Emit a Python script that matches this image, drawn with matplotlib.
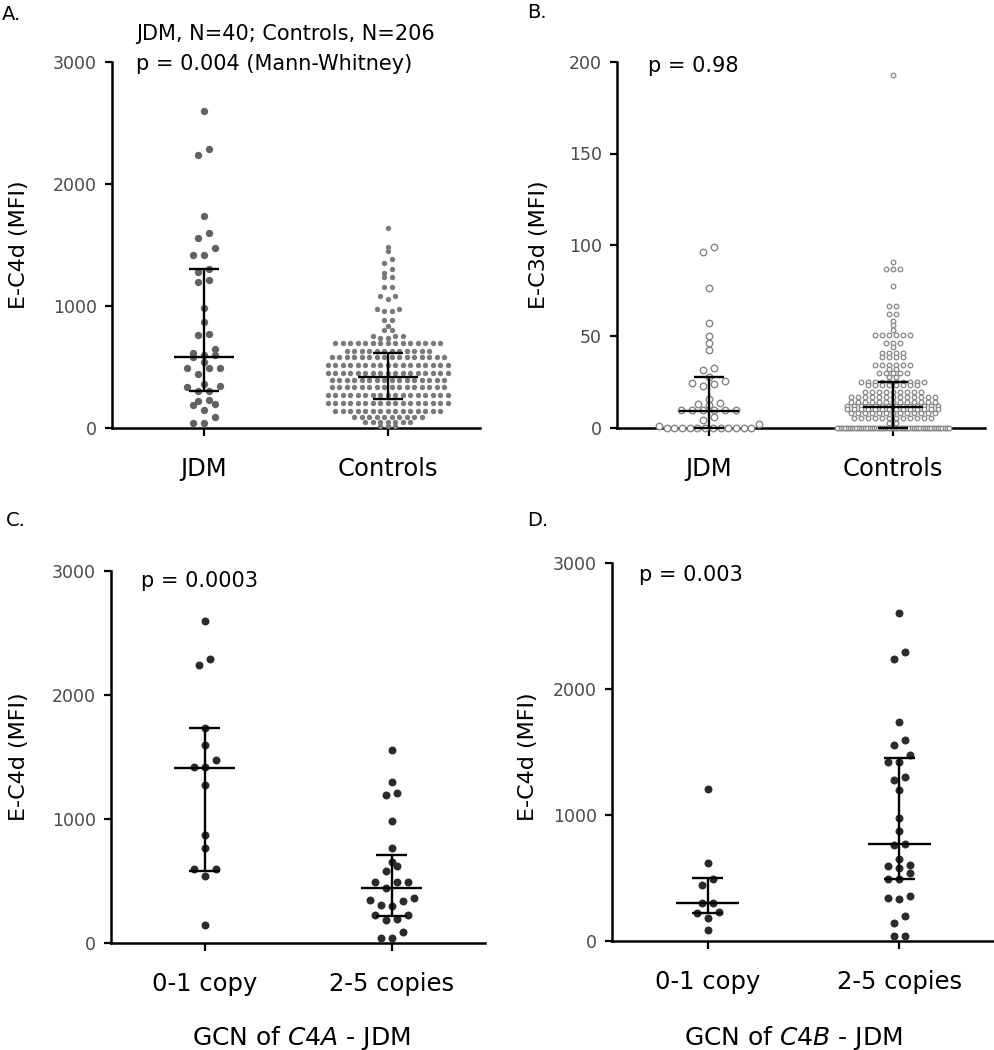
import numpy as np
import matplotlib.pyplot as plt

# ---------------- data ----------------
# E-C4d (MFI) of the 40 JDM patients; the same patients are split by C4A / C4B copy number
jdm_c4d = [2600, 2290, 2240, 1735, 1595, 1555, 1475, 1420, 1420, 1300,
           1275, 1210, 1195, 980, 870, 770, 765, 650, 618, 600,
           595, 580, 540, 495, 492, 490, 445, 360, 345, 335,
           305, 300, 228, 222, 195, 185, 145, 90, 40, 38]
# 0 = "0-1 copy", 1 = "2-5 copies"
c4a_group = [0, 0, 0, 0, 0, 1, 0, 0, 0, 1,
             0, 1, 1, 1, 0, 0, 1, 1, 1, 0,
             0, 1, 0, 1, 1, 1, 1, 1, 1, 1,
             1, 1, 1, 1, 1, 1, 0, 1, 1, 1]
c4b_group = [1, 1, 1, 1, 1, 1, 1, 1, 1, 1,
             1, 0, 1, 1, 1, 1, 1, 1, 0, 1,
             1, 1, 1, 0, 1, 1, 0, 1, 1, 1,
             0, 0, 0, 0, 1, 0, 1, 0, 1, 1]

# controls E-C4d: dots sit in rows, value of the row and number of dots in it
ctrl_c4d_rows = [1642, 1486, 1453, 1383, 1355, 1303, 1273, 1240, 1158, 1084,
                 1057, 975, 961, 885, 838, 803, 752, 735, 699, 631,
                 579, 516, 453, 393, 333, 270, 202, 139, 93, 52, 16]
ctrl_c4d_counts = [1, 1, 1, 1, 1, 1, 1, 2, 2, 2,
                   1, 2, 2, 2, 1, 2, 3, 2, 15, 12,
                   16, 17, 17, 16, 16, 17, 17, 15, 10, 7, 3]

# E-C3d (MFI)
jdm_c3d = [99.1, 96.4, 76.7, 57.5, 50.3, 46.3, 42.6, 32.6, 31.7, 28.0,
           25.7, 24.8, 23.9, 23.0, 15.8, 13.8, 13.1, 12.6, 9.8, 9.8,
           9.8, 9.8, 9.8, 9.8, 6.2, 4.4, 2.2, 1.1, 0, 0,
           0, 0, 0, 0, 0, 0, 0, 0, 0, 0]
ctrl_c3d_rows = [193, 90.9, 86.9, 77.8, 66.5, 62.5, 58.6, 56.3, 53.6, 50.8,
                 46.6, 44.4, 41.2, 38.6, 34.4, 32, 29.9, 28, 25.3, 23.5,
                 19.8, 16.8, 14.4, 12, 10.2, 8, 5.3, 2.9, 0]
ctrl_c3d_counts = [1, 1, 3, 1, 2, 2, 1, 1, 1, 6,
                   3, 1, 4, 4, 6, 2, 5, 2, 10, 8,
                   9, 13, 13, 14, 14, 13, 12, 2, 52]

# median and interquartile range lines
a_med, a_q1, a_q3 = [585, 420], [303, 238], [1300, 617]
b_med, b_q1, b_q3 = [9.5, 11.3], [0, 0], [27.7, 25.3]
c_med, c_q1, c_q3 = [1414, 441], [583, 220], [1731, 707]
d_med, d_q1, d_q3 = [299, 770], [220, 493], [502, 1454]

FIG_W, FIG_H = 995, 1050
fig = plt.figure(figsize=(FIG_W / 100, FIG_H / 100), dpi=100)


def px_axes(left, top, right, bottom):
    # axes box given in pixels of the final picture
    return fig.add_axes([left / FIG_W, 1 - bottom / FIG_H,
                         (right - left) / FIG_W, (bottom - top) / FIG_H])


def scatter_x(ax, values, center, row_px, step_px, max_px):
    # prism-like layout: points closer than row_px share a row, spread sideways
    vals = np.asarray(values, float)
    pos = ax.get_position()
    sx = pos.width * FIG_W / np.ptp(ax.get_xlim())
    sy = pos.height * FIG_H / np.ptp(ax.get_ylim())
    order = np.argsort(vals, kind='stable')
    xs = np.zeros(len(vals))
    i = 0
    while i < len(order):
        j = i
        start = vals[order[i]]
        while j < len(order) and (vals[order[j]] - start) * sy < row_px:
            j += 1
        n = j - i
        step = step_px if n < 2 else min(step_px, max_px / (n - 1))
        offs = (np.arange(n) - (n - 1) / 2) * step
        offs = offs[np.argsort(np.abs(offs) + 1e-6 * np.arange(n), kind='stable')]
        xs[order[i:j]] = center + offs / sx
        i = j
    return xs


def style(ax, ymax, yticks, xlabels):
    ax.set_xlim(-0.5, 1.5)
    ax.set_ylim(0, ymax)
    ax.spines['top'].set_visible(False)
    ax.spines['right'].set_visible(False)
    ax.spines['left'].set_linewidth(1.8)
    ax.spines['bottom'].set_linewidth(1.8)
    ax.set_yticks(yticks)
    ax.tick_params(axis='y', length=5, width=1.6, labelsize=12.5,
                   labelcolor='#4a4a4a', pad=6)
    ax.set_xticks([0, 1])
    ax.set_xticklabels(xlabels)
    ax.tick_params(axis='x', length=6, width=1.6, labelsize=17.5, pad=15)


def bars(ax, med, q1, q3):
    for x in range(2):
        kw = dict(color='black', lw=1.7, zorder=5, clip_on=False, solid_capstyle='butt')
        ax.plot([x, x], [q1[x], q3[x]], **kw)
        ax.plot([x - 0.165, x + 0.165], [med[x], med[x]], **kw)
        ax.plot([x - 0.082, x + 0.082], [q1[x], q1[x]], **kw)
        ax.plot([x - 0.082, x + 0.082], [q3[x], q3[x]], **kw)


jdm_c4d = np.array(jdm_c4d)
c4a_group = np.array(c4a_group)
c4b_group = np.array(c4b_group)
ctrl_c4d = np.repeat(ctrl_c4d_rows, ctrl_c4d_counts)
ctrl_c3d = np.repeat(ctrl_c3d_rows, ctrl_c3d_counts)

# ---------------- A ----------------
ax = px_axes(112, 62, 480, 428)
style(ax, 3000, [0, 1000, 2000, 3000], ['JDM', 'Controls'])
ax.scatter(scatter_x(ax, jdm_c4d, 0, 7, 11, 50), jdm_c4d, s=28, color='#626262',
           lw=0, zorder=3, clip_on=False)
ax.scatter(scatter_x(ax, ctrl_c4d, 1, 4, 7.5, 125), ctrl_c4d, s=15, color='#7a7a7a',
           lw=0, zorder=3, clip_on=False)
bars(ax, a_med, a_q1, a_q3)

# ---------------- B ----------------
ax = px_axes(617, 62, 985, 428)
style(ax, 200, [0, 50, 100, 150, 200], ['JDM', 'Controls'])
ax.scatter(scatter_x(ax, jdm_c3d, 0, 5, 11, 100), jdm_c3d, s=22, facecolor='white',
           edgecolor='#858585', lw=1.0, zorder=3, clip_on=False)
ax.scatter(scatter_x(ax, ctrl_c3d, 1, 3, 7, 112), ctrl_c3d, s=11, facecolor='white',
           edgecolor='#858585', lw=0.9, zorder=3, clip_on=False)
bars(ax, b_med, b_q1, b_q3)

# ---------------- C ----------------
ax = px_axes(111, 571, 485, 943)
style(ax, 3000, [0, 1000, 2000, 3000], ['0-1 copy', '2-5 copies'])
for g in range(2):
    v = jdm_c4d[c4a_group == g]
    ax.scatter(scatter_x(ax, v, g, 8, 11, 60), v, s=33, color='#2b2b2b',
               lw=0, zorder=3, clip_on=False)
bars(ax, c_med, c_q1, c_q3)

# ---------------- D ----------------
ax = px_axes(612, 563, 995, 941)
style(ax, 3000, [0, 1000, 2000, 3000], ['0-1 copy', '2-5 copies'])
for g in range(2):
    v = jdm_c4d[c4b_group == g]
    ax.scatter(scatter_x(ax, v, g, 8, 11, 60), v, s=33, color='#2b2b2b',
               lw=0, zorder=3, clip_on=False)
bars(ax, d_med, d_q1, d_q3)


# ---------------- texts ----------------
def ftext(x, y, s, **kw):
    fig.text(x / FIG_W, 1 - y / FIG_H, s, **kw)


for x, y, s in [(2, 14, 'A.'), (527, 12, 'B.'), (6, 520, 'C.'), (527, 520, 'D.')]:
    ftext(x, y, s, fontsize=14, va='center')

ftext(136, 34, 'JDM, N=40; Controls, N=206', fontsize=15, va='center')
ftext(136, 64, 'p = 0.004 (Mann-Whitney)', fontsize=15, va='center')
ftext(648, 66, 'p = 0.98', fontsize=15, va='center')
ftext(141, 581, 'p = 0.0003', fontsize=15, va='center')
ftext(639, 575, 'p = 0.003', fontsize=15, va='center')

for x, y, s in [(19, 245, 'E-C4d (MFI)'), (539, 245, 'E-C3d (MFI)'),
                (19, 757, 'E-C4d (MFI)'), (528, 757, 'E-C4d (MFI)')]:
    ftext(x, y, s, fontsize=16, rotation=90, ha='center', va='center')

ftext(301, 1038, 'GCN of $\\it{C4A}$ - JDM', fontsize=18, ha='center', va='center')
ftext(793, 1038, 'GCN of $\\it{C4B}$ - JDM', fontsize=18, ha='center', va='center')

fig.savefig('out.png', dpi=100)
